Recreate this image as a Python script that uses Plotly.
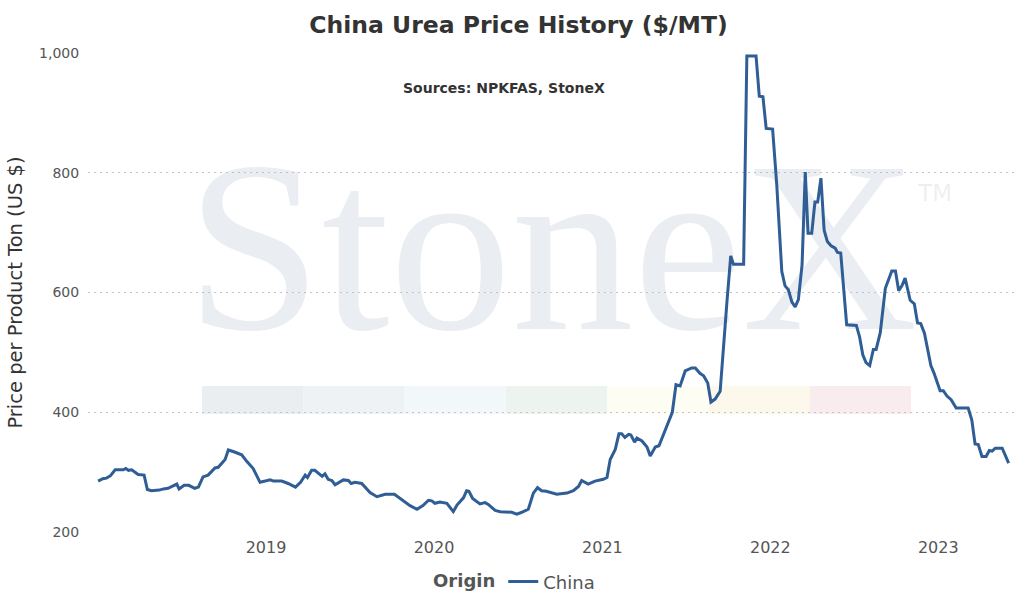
import pandas as pd
import plotly.graph_objects as go

dates = [
"2018-01-01","2018-01-11","2018-01-19","2018-01-28","2018-02-07","2018-02-25","2018-03-02","2018-03-08","2018-03-15","2018-03-29",
"2018-04-11","2018-04-18","2018-04-27","2018-05-14","2018-05-23","2018-06-02","2018-06-21","2018-06-26","2018-07-07","2018-07-17",
"2018-07-30","2018-08-07","2018-08-17","2018-08-28","2018-09-12","2018-09-19","2018-10-04","2018-10-11","2018-10-23","2018-11-09",
"2018-11-20","2018-12-04","2018-12-19","2019-01-10","2019-01-17","2019-02-04","2019-02-18","2019-03-06","2019-03-17","2019-03-27",
"2019-04-01","2019-04-10","2019-04-17","2019-05-03","2019-05-09","2019-05-16","2019-05-24","2019-05-31","2019-06-18","2019-06-29",
"2019-07-05","2019-07-13","2019-07-28","2019-08-15","2019-08-30","2019-09-17","2019-10-07","2019-10-23","2019-11-03","2019-11-10",
"2019-11-25","2019-12-08","2019-12-20","2019-12-27","2020-01-03","2020-01-14","2020-01-29","2020-02-12","2020-02-20","2020-03-05",
"2020-03-12","2020-03-17","2020-03-25","2020-04-10","2020-04-21","2020-04-28","2020-05-13","2020-05-24","2020-06-18","2020-06-29",
"2020-07-10","2020-07-24","2020-08-04","2020-08-13","2020-08-22","2020-09-01","2020-09-24","2020-10-16","2020-10-30","2020-11-10",
"2020-11-17","2020-12-01","2020-12-16","2021-01-03","2021-01-11","2021-01-18","2021-01-29","2021-02-06","2021-02-12","2021-02-19",
"2021-02-27","2021-03-04","2021-03-12","2021-03-17","2021-03-28","2021-04-08","2021-04-15","2021-04-26","2021-05-04","2021-05-17",
"2021-06-02","2021-06-10","2021-06-19","2021-06-30","2021-07-14","2021-07-22","2021-08-01","2021-08-09","2021-08-18","2021-08-25",
"2021-09-03","2021-09-14","2021-09-21","2021-09-29","2021-10-07","2021-10-13","2021-11-04","2021-11-11","2021-12-01","2021-12-08",
"2021-12-16","2021-12-23","2022-01-06","2022-01-15","2022-01-26","2022-02-02","2022-02-09","2022-02-17","2022-02-24","2022-03-03",
"2022-03-11","2022-03-18","2022-03-24","2022-04-01","2022-04-08","2022-04-14","2022-04-21","2022-04-28","2022-05-05","2022-05-13",
"2022-05-22","2022-05-27","2022-06-03","2022-06-16","2022-07-07","2022-07-14","2022-07-21","2022-07-28","2022-08-05","2022-08-13",
"2022-08-19","2022-08-28","2022-09-08","2022-09-17","2022-09-22","2022-09-30","2022-10-07","2022-10-14","2022-10-21","2022-11-01",
"2022-11-10","2022-11-17","2022-11-24","2022-12-02","2022-12-11","2022-12-16","2022-12-23","2023-01-05","2023-01-12","2023-01-20",
"2023-01-29","2023-02-09","2023-03-07","2023-03-15","2023-03-22","2023-03-29","2023-04-06","2023-04-15","2023-04-22","2023-04-28",
"2023-05-05","2023-05-20","2023-06-03"]

china_price = [
285,289,290,294,304,304,306,303,304,296,
295,271,269,270,272,273,280,272,278,278,
273,275,292,295,307,308,321,337,334,329,
318,306,283,287,285,285,281,275,283,295,
291,303,303,293,297,288,286,279,287,286,
281,283,281,266,259,263,263,254,249,244,
238,244,253,252,248,250,248,234,245,257,
269,268,256,247,249,246,236,234,233,230,
233,238,265,274,269,268,263,265,269,276,
286,280,285,288,291,321,338,364,364,358,
363,362,350,357,352,342,327,342,344,368,
400,446,444,469,474,474,465,461,449,417,
422,435,510,587,661,647,647,995,995,928,
927,874,873,780,635,611,605,584,576,588,
646,801,699,699,751,751,791,704,685,678,
674,667,666,546,545,526,496,483,478,505,
505,533,607,628,636,636,603,611,624,587,
581,549,548,532,493,478,465,436,436,427,
421,407,407,387,347,346,326,326,336,335,
340,340,315]

series_name = "China"
y_ticks = [200, 400, 600, 800, 1000]
x_tick_dates = ["2019-01-01", "2020-01-01", "2021-01-01", "2022-01-01", "2023-01-01"]
x_tick_labels = ["2019", "2020", "2021", "2022", "2023"]

X_RANGE = ["2017-12-10", "2023-06-19"]
Y_RANGE = [200, 1000]

FONT = "DejaVu Sans"

xr0 = pd.Timestamp(X_RANGE[0])
xr1 = pd.Timestamp(X_RANGE[1])


def xfrac(f):
    return xr0 + (xr1 - xr0) * f


def yfrac(f):
    return Y_RANGE[0] + (Y_RANGE[1] - Y_RANGE[0]) * f


fig = go.Figure()

# watermark (drawn beneath the price line)
fig.add_trace(go.Scatter(
    x=[xfrac(0.5)], y=[yfrac(0.552)], mode="text", text=["StoneX"],
    textfont=dict(family="Liberation Serif", size=244, color="rgba(170,185,200,0.25)"),
    textposition="middle center", hoverinfo="skip", showlegend=False,
))
fig.add_trace(go.Scatter(
    x=[xfrac(0.913)], y=[yfrac(0.703)], mode="text", text=["TM"],
    textfont=dict(family=FONT, size=23, color="rgba(170,185,200,0.22)"),
    textposition="middle center", hoverinfo="skip", showlegend=False,
))

fig.add_trace(go.Scatter(
    x=pd.to_datetime(dates), y=china_price, mode="lines", name=series_name,
    line=dict(color="#2f5d95", width=3),
))

band_colors = ["#eaeef1", "#eef2f4", "#f2f7fa", "#edf3ef", "#fdfdf4", "#fcf8ec", "#f9ecef"]
bx0, bw = 0.1228, 0.10915
for i, c in enumerate(band_colors):
    fig.add_shape(type="rect", xref="paper", yref="paper",
                  x0=bx0 + i * bw, x1=bx0 + (i + 1) * bw, y0=0.2466, y1=0.3050,
                  fillcolor=c, line=dict(width=0), layer="below")

fig.add_annotation(text="<b>Sources: NPKFAS, StoneX</b>", xref="paper", yref="paper",
                   x=0.4488, y=0.9276, xanchor="center", yanchor="middle",
                   showarrow=False, font=dict(family=FONT, size=14, color="#333333"))

fig.update_layout(
    width=1028, height=604,
    margin=dict(l=88, r=12, t=53, b=72, autoexpand=False),
    paper_bgcolor="white", plot_bgcolor="white",
    font=dict(family=FONT, color="#555555"),
    title=dict(text="<b>China Urea Price History ($/MT)</b>", x=0.5044, y=0.9586,
               xref="container", yref="container", xanchor="center", yanchor="middle",
               font=dict(family=FONT, size=23.5, color="#333333")),
    showlegend=True,
    legend=dict(orientation="h", x=0.4607, y=-0.104, xanchor="center", yanchor="middle",
                title=dict(text="<b>Origin</b>", font=dict(family=FONT, size=18, color="#555555")),
                font=dict(family=FONT, size=18, color="#555555")),
)

fig.update_xaxes(range=X_RANGE, showgrid=False, zeroline=False, showline=False, automargin=False,
                 tickvals=pd.to_datetime(x_tick_dates), ticktext=x_tick_labels,
                 ticks="outside", ticklen=1,
                 tickcolor="rgba(0,0,0,0)", tickfont=dict(family=FONT, size=16, color="#555555"))
fig.update_yaxes(range=Y_RANGE, tickvals=y_ticks, tickformat=",", showgrid=True, automargin=False,
                 gridcolor="#c4c4c4", griddash="2px,4px", gridwidth=1, zeroline=False, showline=False,
                 ticks="outside", ticklen=5, tickcolor="rgba(0,0,0,0)",
                 tickfont=dict(family=FONT, size=14, color="#555555"),
                 title=dict(text="Price per Product Ton (US $)", standoff=11,
                            font=dict(family=FONT, size=19.5, color="#333333")))

fig.write_html("out.html", config={"displayModeBar": False},
               post_script="document.body.style.margin='0px';")
